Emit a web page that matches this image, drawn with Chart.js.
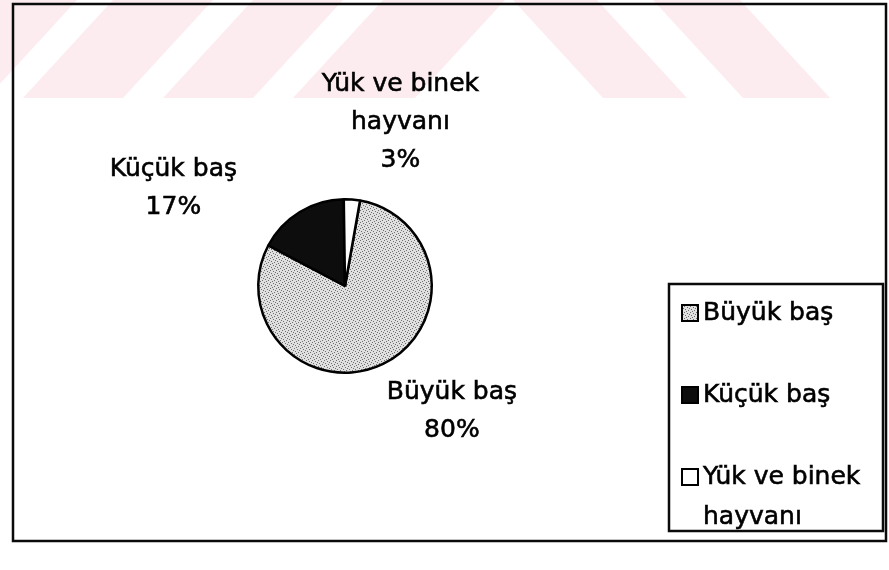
<!DOCTYPE html>
<html>
<head>
<meta charset="utf-8">
<script src="https://cdn.jsdelivr.net/npm/chart.js@4/dist/chart.umd.min.js"></script>
<style>
  body { margin: 0; background: #fff; }
  canvas { display: block; }
</style>
</head>
<body>
<canvas id="grafico" width="889" height="570"></canvas>
<script>
const kategoriler = ['Büyük baş', 'Küçük baş', ['Yük ve binek', 'hayvanı']];
const degerler = [80, 17, 3];

const yazi = '25px "DejaVu Sans", sans-serif';

// nokta deseni (büyük baş dilimi)
function desenOlustur() {
  const c = document.createElement('canvas');
  c.width = 6;
  c.height = 6;
  const g = c.getContext('2d');
  g.fillStyle = '#e0e0e0';
  g.fillRect(0, 0, 6, 6);
  g.fillStyle = '#6e6e6e';
  [[0, 0], [3, 1], [1, 3], [4, 4], [2, 5], [5, 2]].forEach(p => g.fillRect(p[0], p[1], 1, 1));
  return g.createPattern(c, 'repeat');
}

const ctx = document.getElementById('grafico');
const desen = desenOlustur();
const renkler = [desen, '#0d0d0d', '#ffffff'];

// metni biraz kalın göster (taranmış görüntü gibi)
function yaz(c, s, x, y) {
  c.strokeText(s, x, y);
  c.fillText(s, x, y);
}

// filigran + çerçeve
const arkaPlan = {
  id: 'arkaPlan',
  beforeDraw(chart) {
    const c = chart.ctx;
    c.save();
    c.fillStyle = '#fff';
    c.fillRect(0, 0, chart.width, chart.height);
    c.beginPath();
    c.rect(0, 0, chart.width, 98);
    c.clip();
    c.fillStyle = 'rgb(253, 236, 239)';
    const h = 98, kay = 90;
    // "/" bantlar
    [[-153, -56], [-20, 77], [113, 213], [253, 343], [383, 505]].forEach(b => {
      c.beginPath();
      c.moveTo(b[0], 0);
      c.lineTo(b[1], 0);
      c.lineTo(b[1] - kay, h);
      c.lineTo(b[0] - kay, h);
      c.closePath();
      c.fill();
    });
    // "\" bantlar
    [[513, 597], [653, 740]].forEach(b => {
      c.beginPath();
      c.moveTo(b[0], 0);
      c.lineTo(b[1], 0);
      c.lineTo(b[1] + kay, h);
      c.lineTo(b[0] + kay, h);
      c.closePath();
      c.fill();
    });
    c.restore();

    c.save();
    c.strokeStyle = '#0a0a0a';
    c.lineWidth = 2.5;
    c.strokeRect(13, 4, 873, 537);
    c.restore();
  }
};

// dilim etiketleri
const etiketler = {
  id: 'etiketler',
  afterDatasetsDraw(chart, args, opts) {
    const c = chart.ctx;
    const meta = chart.getDatasetMeta(0);
    const toplam = degerler.reduce((a, b) => a + b, 0);
    c.save();
    c.font = yazi;
    c.fillStyle = '#000';
    c.strokeStyle = '#000';
    c.lineWidth = 0.6;
    c.textAlign = 'center';
    c.textBaseline = 'middle';
    meta.data.forEach((el, i) => {
      const p = el.getProps(['x', 'y', 'startAngle', 'endAngle', 'outerRadius'], true);
      const orta = (p.startAngle + p.endAngle) / 2;
      const r = p.outerRadius + opts.uzaklik;
      const x = p.x + Math.cos(orta) * r + opts.kaydir[i][0];
      const y = p.y + Math.sin(orta) * r + opts.kaydir[i][1];
      const satirlar = [].concat(kategoriler[i]);
      satirlar.push(Math.round(degerler[i] / toplam * 100) + '%');
      const y0 = y - (satirlar.length - 1) * opts.satir / 2;
      satirlar.forEach((s, j) => yaz(c, s, x, y0 + j * opts.satir));
    });
    c.restore();
  }
};

// kutulu lejant
const lejant = {
  id: 'lejant',
  afterDraw(chart, args, opts) {
    const c = chart.ctx;
    const ds = chart.data.datasets[0];
    c.save();
    c.strokeStyle = '#0a0a0a';
    c.lineWidth = 2.5;
    c.strokeRect(opts.x, opts.y, opts.w, opts.h);
    c.font = yazi;
    c.textBaseline = 'middle';
    c.textAlign = 'left';
    let y = opts.ilkSatir;
    chart.data.labels.forEach((lbl, i) => {
      const satirlar = [].concat(lbl);
      c.fillStyle = ds.backgroundColor[i];
      c.fillRect(opts.x + 13, y - 8, 16, 16);
      c.lineWidth = 2;
      c.strokeStyle = '#000';
      c.strokeRect(opts.x + 13, y - 8, 16, 16);
      c.fillStyle = '#000';
      c.lineWidth = 0.6;
      satirlar.forEach((s, j) => yaz(c, s, opts.x + 34, y + j * opts.satir));
      y += satirlar.length * opts.satir + opts.bosluk;
    });
    c.restore();
  }
};

new Chart(ctx, {
  type: 'pie',
  data: {
    labels: kategoriler,
    datasets: [{
      data: degerler,
      backgroundColor: renkler,
      borderColor: '#000',
      borderWidth: 2.5
    }]
  },
  options: {
    responsive: false,
    animation: false,
    rotation: 10,
    layout: { padding: { left: 257, right: 456, top: 198, bottom: 196 } },
    plugins: {
      legend: { display: false },
      tooltip: { enabled: false },
      etiketler: { uzaklik: 43, satir: 38, kaydir: [[50, 9], [-104, 13], [45, -34]] },
      lejant: { x: 669, y: 284, w: 214, h: 247, ilkSatir: 313, satir: 40, bosluk: 42 }
    }
  },
  plugins: [arkaPlan, etiketler, lejant]
});
</script>
</body>
</html>
